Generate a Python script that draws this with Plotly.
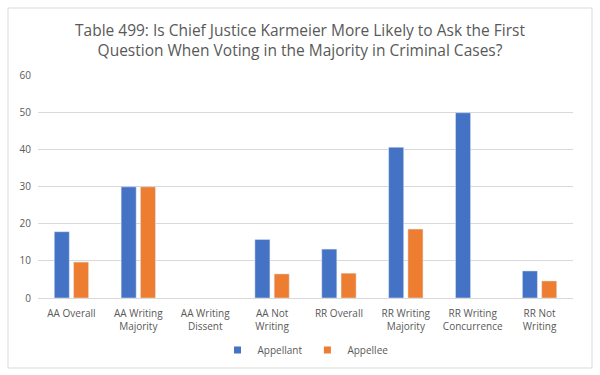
import plotly.graph_objects as go

categories = ["AA Overall", "AA Writing<br>Majority", "AA Writing<br>Dissent", "AA Not<br>Writing",
              "RR Overall", "RR Writing<br>Majority", "RR Writing<br>Concurrence", "RR Not<br>Writing"]
appellant = [17.9, 30, None, 15.8, 13.2, 40.7, 50, 7.3]
appellee = [9.7, 30, None, 6.5, 6.7, 18.6, None, 4.6]
y_ticks = [0, 10, 20, 30, 40, 50, 60]
title_text = "Table 499: Is Chief Justice Karmeier More Likely to Ask the First<br>Question When Voting in the Majority in Criminal Cases?"

BLUE, ORANGE = "#4472C4", "#ED7D31"
FONT = "Open Sans"
fig = go.Figure()
fig.add_trace(go.Bar(name="Appellant", x=categories, y=appellant, marker_color=BLUE, showlegend=False))
fig.add_trace(go.Bar(name="Appellee", x=categories, y=appellee, marker_color=ORANGE, showlegend=False))
# legend entries with small square markers
fig.add_trace(go.Scatter(name="Appellant", x=[None], y=[None], mode="markers",
                         marker=dict(symbol="square", size=7, color=BLUE)))
fig.add_trace(go.Scatter(name="Appellee", x=[None], y=[None], mode="markers",
                         marker=dict(symbol="square", size=7, color=ORANGE)))

L, R, T, B = 38, 27, 75, 77
pw = 600 - L - R
ph = 375 - T - B
fig.update_layout(
    width=600, height=375,
    margin=dict(l=L, r=R, t=T, b=B, autoexpand=False),
    paper_bgcolor="white", plot_bgcolor="white",
    barmode="group", bargap=0.423, bargroupgap=0.22,
    title=dict(text=title_text, x=0.5, xanchor="center", y=0.905, yanchor="top",
               font=dict(family=FONT, size=15.5, color="#595959")),
    font=dict(family=FONT, size=10, color="#595959"),
    xaxis=dict(showgrid=False, showline=True, linecolor="#d9d9d9", ticks="",
               ticklabelstandoff=6, tickfont=dict(size=10, color="#595959")),
    yaxis=dict(range=[0, 60.2], tickvals=y_ticks, showgrid=True, gridcolor="#d9d9d9",
               zeroline=False, showline=False, ticks="", ticklabelstandoff=6,
               tickfont=dict(size=10, color="#595959")),
    legend=dict(orientation="h", x=0.5, xanchor="center", y=(375 - 350) / 375, yanchor="middle",
                yref="container", font=dict(size=10, color="#595959"), itemwidth=30,
                tracegroupgap=0, itemclick=False),
    shapes=[dict(type="rect", xref="paper", yref="paper",
                 x0=(8 - L) / pw, x1=(592 - L) / pw,
                 y0=-(368 - (375 - B)) / ph, y1=(375 - B - 8) / ph,
                 line=dict(color="#d9d9d9", width=1), layer="above")],
)
fig.write_html("out.html", config={"displayModeBar": False},
               post_script="document.body.style.margin='0';document.body.style.overflow='hidden';")
